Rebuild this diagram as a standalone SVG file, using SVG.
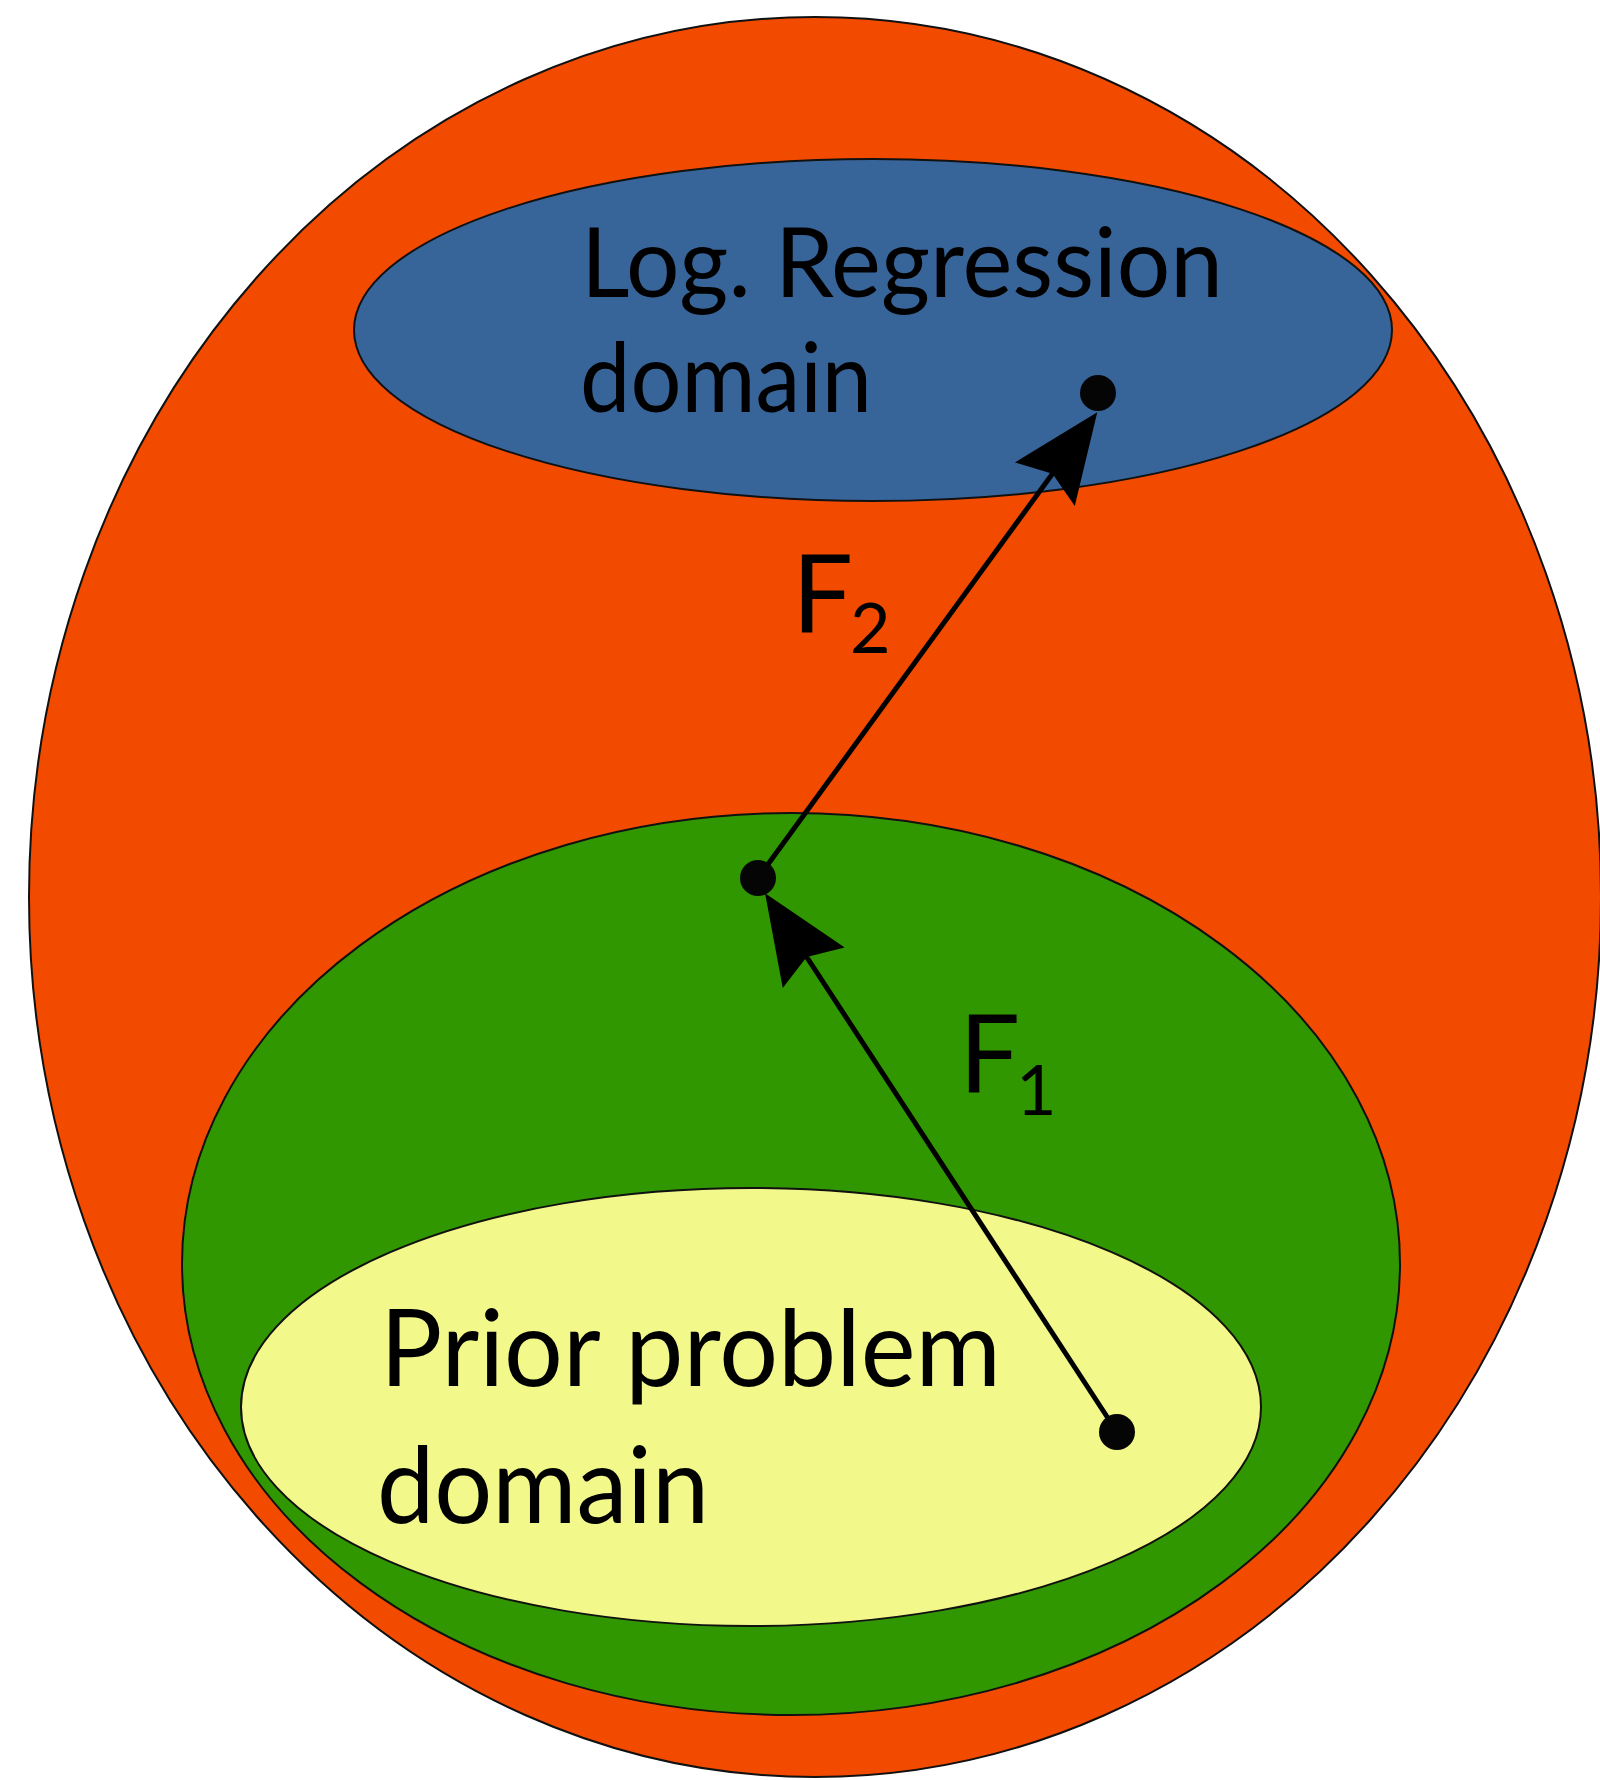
<svg xmlns="http://www.w3.org/2000/svg" width="1600" height="1780" viewBox="0 0 1600 1780">
<style>
.region{stroke:#111;stroke-width:2}
.lbl{font-family:Lato,"Open Sans","DejaVu Sans",sans-serif;fill:#000}
.conn{stroke:#000;stroke-width:5;fill:none}
.dot{fill:#050505}
</style>
<defs>
<marker id="ah" markerUnits="userSpaceOnUse" viewBox="0 0 100 80" markerWidth="100" markerHeight="80" refX="80" refY="40" orient="auto">
<path d="M100,40 L11,3 L24,40 L11,77 Z" fill="#000"/>
</marker>
</defs>
<rect width="1600" height="1780" fill="#fff"/>
<g id="outer"><ellipse class="region" cx="815" cy="897" rx="786" ry="880" fill="#F24B00"/></g>
<g id="logreg">
<ellipse class="region" cx="873" cy="330" rx="519" ry="171" fill="#37659A"/>
<text class="lbl" x="581" y="297" font-size="96" textLength="642" lengthAdjust="spacingAndGlyphs">Log. Regression</text>
<text class="lbl" x="580" y="412" font-size="96" textLength="292" lengthAdjust="spacingAndGlyphs">domain</text>
</g>
<g id="middle"><ellipse class="region" cx="791" cy="1264" rx="609" ry="451" fill="#319700"/></g>
<g id="prior">
<ellipse class="region" cx="751" cy="1407" rx="510" ry="219" fill="#F3F88B"/>
<text class="lbl" x="380" y="1386" font-size="106" textLength="621" lengthAdjust="spacingAndGlyphs">Prior problem</text>
<text class="lbl" x="377" y="1523" font-size="106" textLength="332" lengthAdjust="spacingAndGlyphs">domain</text>
</g>
<g id="connectors">
<line class="conn" x1="1117" y1="1432" x2="776" y2="910" marker-end="url(#ah)"/>
<line class="conn" x1="758" y1="878" x2="1085.5" y2="428.4" marker-end="url(#ah)"/>
<text class="lbl" x="792" y="633" font-size="108">F<tspan dx="-3" dy="20" font-size="70">2</tspan></text>
<text class="lbl" x="959" y="1093" font-size="108">F<tspan dx="-4" dy="22" font-size="70">1</tspan></text>
</g>
<g id="points">
<circle class="dot" cx="1098" cy="393" r="18"/>
<circle class="dot" cx="758" cy="878" r="18"/>
<circle class="dot" cx="1117" cy="1432" r="18"/>
</g>
</svg>
